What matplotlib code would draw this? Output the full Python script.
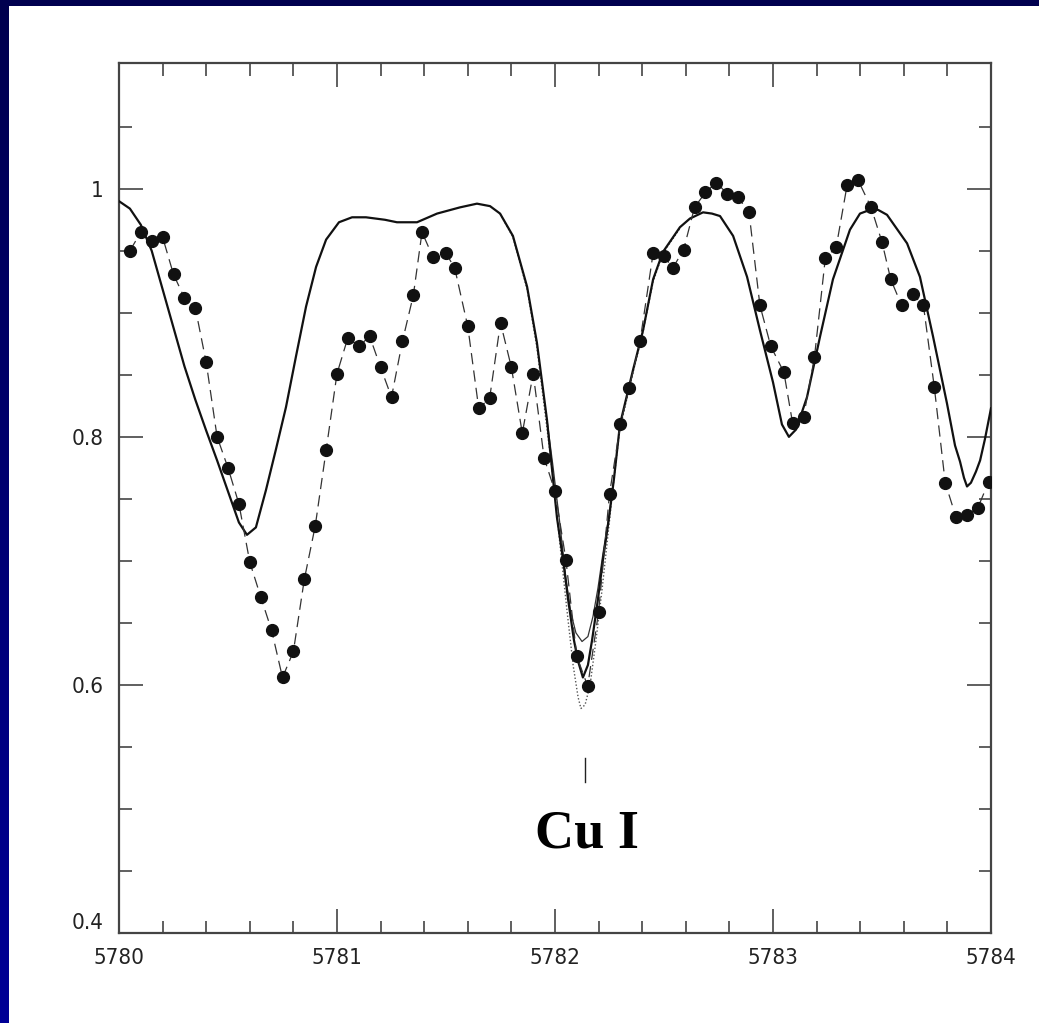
import numpy as np
import matplotlib
matplotlib.use("Agg")
import matplotlib.pyplot as plt
from matplotlib import font_manager
from matplotlib.font_manager import FontProperties
from matplotlib.colors import LinearSegmentedColormap

# tick label font: look for a narrow / condensed sans file, else plain DejaVu
tick_font = FontProperties(family="DejaVu Sans", size=16)
for f in font_manager.fontManager.ttflist:
    fn = f.fname.lower()
    if ("narrow" in fn or "condensed" in fn) and "bold" not in fn and "oblique" not in fn and "italic" not in fn:
        if "liberation" in fn or "dejavusans" in fn:
            tick_font = FontProperties(fname=f.fname, size=16)
            if "liberation" in fn:
                break

# observed spectrum (dots)
wave_obs = [5780.05, 5780.10, 5780.15, 5780.20, 5780.25, 5780.30, 5780.35, 5780.40, 5780.45, 5780.50,
            5780.55, 5780.60, 5780.65, 5780.70, 5780.75, 5780.80, 5780.85, 5780.90, 5780.95, 5781.00,
            5781.05, 5781.10, 5781.15, 5781.20, 5781.25, 5781.30, 5781.35, 5781.39, 5781.44, 5781.50,
            5781.54, 5781.60, 5781.65, 5781.70, 5781.75, 5781.80, 5781.85, 5781.90, 5781.95, 5782.00,
            5782.05, 5782.10, 5782.15, 5782.20, 5782.25, 5782.30, 5782.34, 5782.39, 5782.45, 5782.50,
            5782.54, 5782.59, 5782.64, 5782.69, 5782.74, 5782.79, 5782.84, 5782.89, 5782.94, 5782.99,
            5783.05, 5783.09, 5783.14, 5783.19, 5783.24, 5783.29, 5783.34, 5783.39, 5783.45, 5783.50,
            5783.54, 5783.59, 5783.64, 5783.69, 5783.74, 5783.79, 5783.84, 5783.89, 5783.94, 5783.99]
flux_obs = [0.950, 0.965, 0.958, 0.961, 0.931, 0.912, 0.904, 0.860, 0.800, 0.775,
            0.746, 0.699, 0.671, 0.644, 0.606, 0.627, 0.685, 0.728, 0.789, 0.851,
            0.880, 0.873, 0.881, 0.856, 0.832, 0.877, 0.914, 0.965, 0.945, 0.948,
            0.936, 0.889, 0.823, 0.831, 0.892, 0.856, 0.803, 0.851, 0.783, 0.756,
            0.701, 0.623, 0.599, 0.659, 0.754, 0.810, 0.839, 0.877, 0.948, 0.946,
            0.936, 0.951, 0.985, 0.997, 1.005, 0.996, 0.993, 0.981, 0.906, 0.873,
            0.852, 0.811, 0.816, 0.864, 0.944, 0.953, 1.003, 1.007, 0.985, 0.957,
            0.927, 0.906, 0.915, 0.906, 0.840, 0.763, 0.735, 0.737, 0.743, 0.764]

# synthetic spectrum (thick solid)
wave_syn = [5780.000, 5780.050, 5780.100, 5780.150, 5780.200, 5780.250, 5780.300, 5780.350, 5780.400, 5780.450,
            5780.500, 5780.550, 5780.587, 5780.628, 5780.674, 5780.720, 5780.766, 5780.812,
            5780.858, 5780.904, 5780.950, 5781.009, 5781.069, 5781.133, 5781.220, 5781.275, 5781.367, 5781.459,
            5781.564, 5781.642, 5781.702, 5781.748, 5781.807, 5781.872, 5781.917, 5781.963, 5782.009, 5782.037,
            5782.060, 5782.087, 5782.106, 5782.128, 5782.151, 5782.170, 5782.197, 5782.220, 5782.248, 5782.271,
            5782.298, 5782.358, 5782.404, 5782.450, 5782.495, 5782.573, 5782.619, 5782.679, 5782.720, 5782.757,
            5782.817, 5782.881, 5782.940, 5783.000, 5783.041, 5783.073, 5783.106, 5783.156, 5783.216, 5783.275,
            5783.353, 5783.399, 5783.445, 5783.482, 5783.523, 5783.615, 5783.674, 5783.734, 5783.798, 5783.835,
            5783.858, 5783.876, 5783.890, 5783.908, 5783.931, 5783.950, 5783.972, 5784.000]
flux_syn = [0.990, 0.984, 0.971, 0.950, 0.919, 0.888, 0.857, 0.830, 0.805, 0.781,
            0.756, 0.731, 0.721, 0.727, 0.757, 0.790, 0.824, 0.865,
            0.905, 0.937, 0.959, 0.973, 0.977, 0.977, 0.975, 0.973, 0.973, 0.980,
            0.985, 0.988, 0.986, 0.980, 0.962, 0.921, 0.876, 0.814, 0.735, 0.701,
            0.669, 0.636, 0.619, 0.606, 0.616, 0.636, 0.669, 0.701, 0.735, 0.767,
            0.810, 0.854, 0.886, 0.927, 0.949, 0.969, 0.976, 0.981, 0.980, 0.978,
            0.962, 0.929, 0.886, 0.844, 0.810, 0.800, 0.806, 0.832, 0.881, 0.927,
            0.967, 0.980, 0.983, 0.983, 0.979, 0.956, 0.929, 0.881, 0.827, 0.793,
            0.780, 0.767, 0.760, 0.763, 0.772, 0.781, 0.798, 0.823]

# Cu I line with lower abundance (thin solid)
wave_lo = [5781.963, 5781.991, 5782.023, 5782.050, 5782.073, 5782.096, 5782.124, 5782.151, 5782.174,
           5782.197, 5782.220, 5782.248, 5782.271]
flux_lo = [0.814, 0.776, 0.729, 0.686, 0.658, 0.642, 0.635, 0.639, 0.655,
           0.678, 0.706, 0.737, 0.767]

# Cu I line with higher abundance (dotted)
wave_hi = [5781.748, 5781.807, 5781.872, 5781.917, 5781.963, 5781.991, 5782.023, 5782.055, 5782.083,
           5782.106, 5782.119, 5782.138, 5782.161, 5782.188, 5782.216, 5782.243, 5782.271, 5782.298,
           5782.358, 5782.404, 5782.450, 5782.495, 5782.573]
flux_hi = [0.980, 0.961, 0.919, 0.872, 0.807, 0.767, 0.713, 0.660, 0.616,
           0.590, 0.581, 0.584, 0.600, 0.636, 0.677, 0.721, 0.767, 0.807,
           0.852, 0.885, 0.925, 0.948, 0.968]

line_label = "Cu I"
line_wave = 5782.138

W, H = 1039, 1023
fig = plt.figure(figsize=(W / 100, H / 100), dpi=100)
fig.patch.set_facecolor("white")

# blue frame: gradient strip on the left, dark strip on top
left = fig.add_axes([0, 0, 9 / W, 1])
cmap = LinearSegmentedColormap.from_list("edge", ["#00004e", "#000096"])
left.imshow(np.linspace(0, 1, 256).reshape(-1, 1), aspect="auto", cmap=cmap)
left.axis("off")
top = fig.add_axes([0, 1 - 6 / H, 1, 6 / H])
top.set_facecolor("#00004f")
top.set_xticks([])
top.set_yticks([])
for s in top.spines.values():
    s.set_visible(False)

ax = fig.add_axes([119 / W, (H - 933) / H, (991 - 119) / W, (933 - 62.5) / H])

ax.plot(wave_hi, flux_hi, color="#555555", lw=1.0, linestyle=(0, (1, 1.5)), zorder=2)
ax.plot(wave_lo, flux_lo, color="#333333", lw=0.9, zorder=2)
ax.plot(wave_syn, flux_syn, color="#111111", lw=1.6, zorder=3)
ax.plot(wave_obs, flux_obs, color="#333333", lw=0.9, linestyle=(0, (9, 5)),
        marker="o", markersize=8.5, markerfacecolor="#111111", markeredgecolor="#111111", zorder=4)

# line identification
ax.plot([line_wave, line_wave], [0.522, 0.541], color="#222222", lw=1.0)
ax.text(line_wave + 0.01, 0.469, line_label, fontsize=39, fontweight="bold",
        family="Liberation Serif", ha="center", va="baseline", color="black")

ax.set_xlim(5780, 5784)
ax.set_ylim(0.4, 1.1018)
ax.set_xticks([5780, 5781, 5782, 5783, 5784])
ax.set_xticks(np.arange(5780, 5784.01, 0.2), minor=True)
ax.set_yticks([0.4, 0.6, 0.8, 1.0])
ax.set_yticks(np.arange(0.4, 1.1, 0.05), minor=True)
ax.set_xticklabels(["5780", "5781", "5782", "5783", "5784"])
ax.set_yticklabels(["0.4", "0.6", "0.8", "1"])
ax.tick_params(which="both", direction="in", top=True, right=True, color="#444444", width=1.2)
ax.tick_params(which="major", length=17, labelcolor="#222222", pad=11)
ax.tick_params(which="minor", length=9)
for lab in ax.get_xticklabels() + ax.get_yticklabels():
    lab.set_fontproperties(tick_font)
ax.get_yticklabels()[0].set_verticalalignment("bottom")
for s in ax.spines.values():
    s.set_color("#444444")
    s.set_linewidth(1.6)

fig.savefig("out.png", dpi=100, facecolor="white")
